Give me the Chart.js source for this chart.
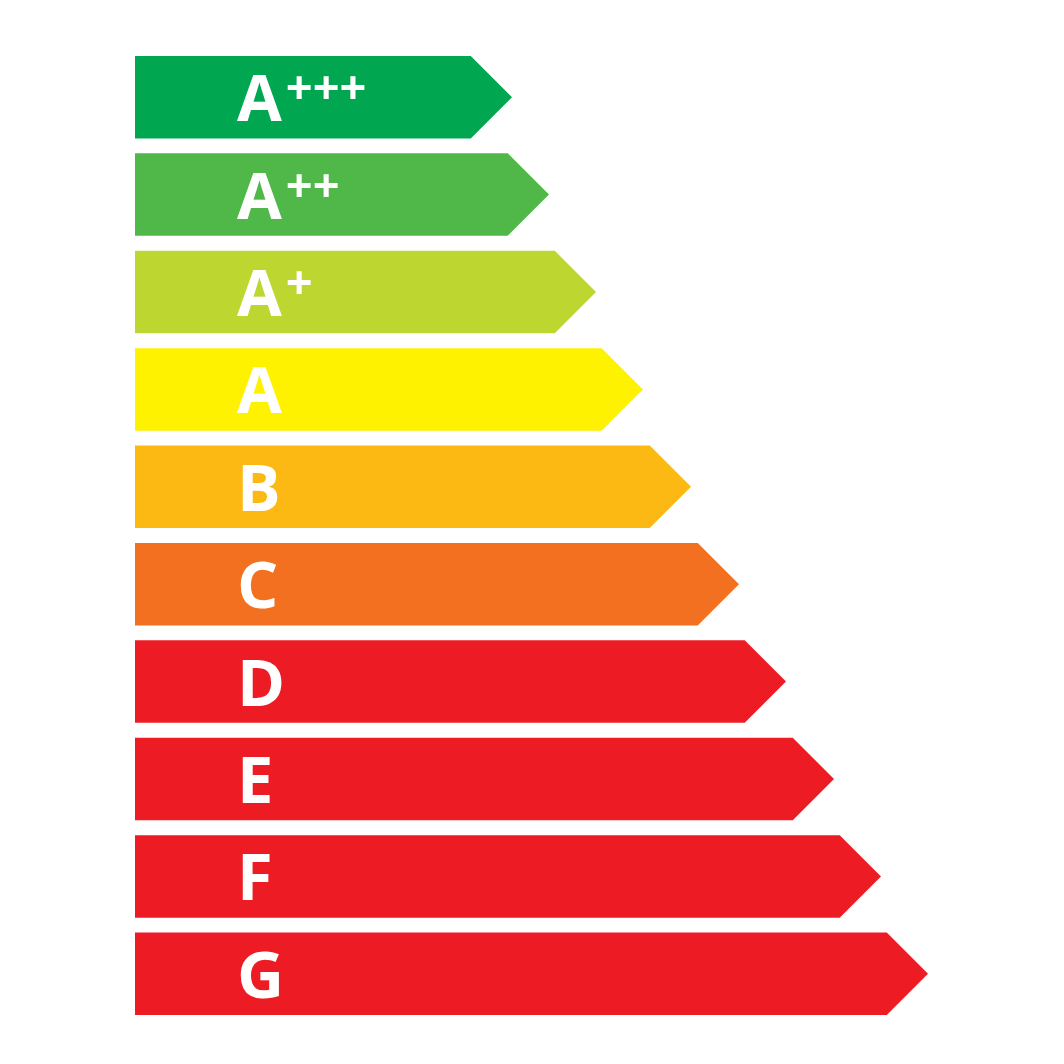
<!DOCTYPE html>
<html>
<head>
<meta charset="utf-8">
<script src="https://cdn.jsdelivr.net/npm/chart.js@4/dist/chart.umd.min.js"></script>
<style>
html,body{margin:0;padding:0;background:#fff;}
#wrap{width:1064px;height:1064px;}
</style>
</head>
<body>
<div id="wrap"><canvas id="c" width="1064" height="1064"></canvas></div>
<script>
const classes = ['A','A','A','A','B','C','D','E','F','G'];
const superscripts = ['+++','++','+','','','','','','',''];
const lengths = [377, 414, 461, 508, 556, 604, 651, 699, 746, 793];
const colors = ['#00a650','#50b848','#bed630','#fff200','#fdb913','#f37021','#ed1c24','#ed1c24','#ed1c24','#ed1c24'];

const arrowPlugin = {
  id: 'arrowBars',
  afterDatasetsDraw(chart) {
    const ctx = chart.ctx;
    const meta = chart.getDatasetMeta(0);
    meta.data.forEach((el, i) => {
      const p = el.getProps(['x','y','base','height'], true);
      const h = p.height, t = p.y - h/2, b = p.y + h/2;
      ctx.save();
      ctx.fillStyle = colors[i];
      ctx.beginPath();
      ctx.moveTo(p.base, t);
      ctx.lineTo(p.x - h/2, t);
      ctx.lineTo(p.x, p.y);
      ctx.lineTo(p.x - h/2, b);
      ctx.lineTo(p.base, b);
      ctx.closePath();
      ctx.fill();
      // label
      ctx.fillStyle = '#ffffff';
      ctx.textBaseline = 'alphabetic';
      ctx.textAlign = 'left';
      ctx.font = 'bold 65px "Open Sans"';
      const lx = p.base + 102;
      const by = p.y + 24;
      ctx.fillText(classes[i], lx, by);
      if (superscripts[i]) {
        const w = ctx.measureText(classes[i]).width;
        ctx.font = 'bold 47px "Open Sans"';
        ctx.fillText(superscripts[i], lx + w + 4, by - 17);
      }
      ctx.restore();
    });
  }
};

function build() {
  new Chart(document.getElementById('c'), {
    type: 'bar',
    data: {
      labels: classes.map((c, i) => c + superscripts[i]),
      datasets: [{
        data: lengths,
        backgroundColor: 'rgba(0,0,0,0)',
        borderWidth: 0,
        barPercentage: 1,
        categoryPercentage: 0.847
      }]
    },
    options: {
      indexAxis: 'y',
      responsive: false,
      animation: false,
      events: [],
      layout: { padding: { left: 135, right: 0, top: 48.5, bottom: 41.5 } },
      scales: {
        x: { display: false, min: 0, max: 929 },
        y: { display: false }
      },
      plugins: { legend: { display: false }, tooltip: { enabled: false } }
    },
    plugins: [arrowPlugin]
  });
}
if (document.fonts && document.fonts.load) {
  Promise.all([document.fonts.load('bold 65px "Open Sans"'), document.fonts.load('bold 47px "Open Sans"')]).then(build, build);
} else { build(); }
</script>
</body>
</html>
